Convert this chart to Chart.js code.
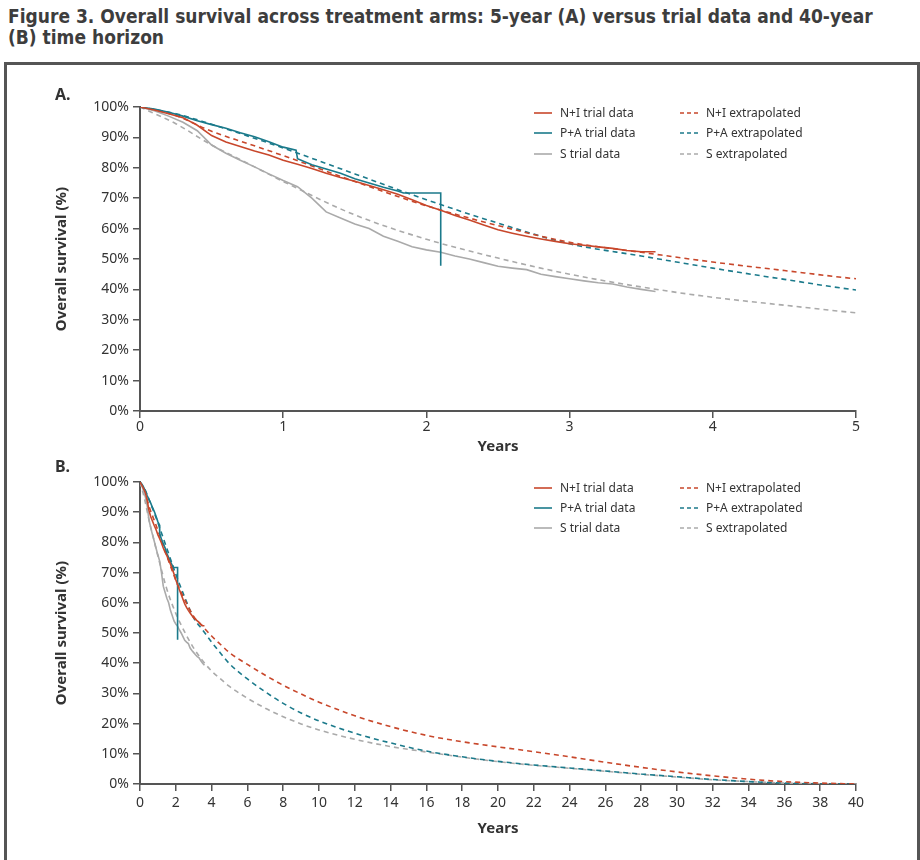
<!DOCTYPE html>
<html>
<head>
<meta charset="utf-8">
<script src="https://cdn.jsdelivr.net/npm/chart.js@4"></script>
<style>
  body { margin: 0; background: #fff; }
  #title { position: absolute; left: 8px; top: 6px; width: 910px; font-family: "DejaVu Sans Condensed", "Liberation Sans Narrow", sans-serif; font-weight: bold; font-size: 19px; line-height: 21px; color: #3d3d3d; }
  #frame { position: absolute; left: 4px; top: 62px; width: 910px; height: 820px; border: 3px solid #555; }
  .panel { position: absolute; left: 55px; font-family: "Noto Sans", sans-serif; font-weight: bold; font-size: 16px; color: #333; z-index: 2; }
  canvas { position: absolute; }
</style>
</head>
<body>
<div id="title">Figure 3. Overall survival across treatment arms: 5-year (A) versus trial data and 40-year<br>(B) time horizon</div>
<div id="frame"></div>
<div class="panel" style="top:83px">A.</div>
<div class="panel" style="top:455px">B.</div>
<canvas id="chartA" width="880" height="400" style="left:10px;top:70px"></canvas>
<canvas id="chartB" width="880" height="400" style="left:10px;top:445px"></canvas>
<script>
// Kaplan-Meier trial data (years, OS %)
const trialYears = [0,0.1,0.2,0.3,0.4,0.5,0.6,0.7,0.8,0.9,1.0,1.1,1.2,1.3,1.4,1.5,1.6,1.7,1.8,1.9,2.0,2.1,2.2,2.3,2.4,2.5,2.6,2.7,2.8,2.9,3.0,3.1,3.2,3.3,3.4,3.5,3.6];
const naiTrial = [100,99.0,97.8,96.5,94.0,90.6,88.5,87.0,85.5,84.2,82.5,81.2,79.8,78.2,76.8,75.6,74.2,72.8,71.3,69.5,67.6,66.0,64.3,62.8,61.2,59.6,58.5,57.5,56.6,55.8,55.0,54.5,54.0,53.5,52.8,52.4,52.4];
const sTrial = [100,98.8,97.0,95.0,92.2,87.5,84.8,82.5,80.3,78.0,75.8,73.8,70.0,65.5,63.5,61.5,60.0,57.5,55.8,54.0,53.0,52.2,51.0,50.0,48.8,47.6,47.0,46.5,45.0,44.2,43.5,42.8,42.2,41.8,40.8,40.0,39.3];
const paTrialYears = [0,0.1,0.2,0.3,0.4,0.5,0.6,0.7,0.8,0.9,1.0,1.09,1.1,1.2,1.3,1.4,1.5,1.6,1.7,1.8,1.84,2.1,2.1];
const paTrial = [100,99.3,98.3,97.0,95.5,94.2,93.0,91.5,90.2,88.6,86.8,85.8,83.0,81.0,79.6,78.2,76.4,75.0,73.6,72.4,71.7,71.7,47.8];

// Extrapolated curves (years, OS %)
const extrapYears = [0,0.25,0.5,0.75,1,1.5,2,2.5,3,3.5,4,4.5,5,6,7,8,9,10,12,14,16,18,20,22,24,26,28,30,32,34,36,38,40];
const naiExtrap = [100,97.2,92.0,88.0,84.0,75.5,67.5,61.0,55.5,52.2,49.0,46.2,43.5,39.6,36.0,32.7,29.8,27.1,22.6,19.0,16.1,14.0,12.3,10.7,9.0,7.2,5.5,4.0,2.7,1.6,0.8,0.3,0];
const paExtrap = [100,97.8,94.3,90.5,86.5,78.0,69.5,61.8,55.0,51.0,47.0,43.3,39.8,34.8,30.5,26.7,23.5,20.9,16.8,13.6,10.9,9.0,7.5,6.3,5.3,4.3,3.3,2.4,1.5,0.8,0.3,0.1,0];
const sExtrap = [100,94.5,87.5,81.5,75.5,64.5,56.5,50.3,45.0,40.8,37.4,34.8,32.3,28.4,25.1,22.3,19.9,17.9,14.8,12.4,10.6,8.9,7.4,6.2,5.2,4.2,3.2,2.3,1.4,0.8,0.3,0.1,0];

const armLabels = ['N+I', 'P+A', 'S'];
const armColors = ['#c8472b', '#1b7a8b', '#aaaaaa'];

const tickFont = { family: '"Noto Sans", sans-serif', size: 14 };
const axisTitleFont = { family: '"Noto Sans", sans-serif', size: 15, weight: 'bold' };

function pts(xs, ys) {
  return xs.map((x, i) => ({ x: x, y: ys[i] }));
}

function makeDatasets() {
  const trials = [pts(trialYears, naiTrial), pts(paTrialYears, paTrial), pts(trialYears, sTrial)];
  const extraps = [pts(extrapYears, naiExtrap), pts(extrapYears, paExtrap), pts(extrapYears, sExtrap)];
  const sets = [];
  trials.forEach((d, i) => sets.push({
    label: armLabels[i] + ' trial data', data: d, borderColor: armColors[i],
    borderWidth: 1.6, pointRadius: 0, fill: false, tension: 0
  }));
  extraps.forEach((d, i) => sets.push({
    label: armLabels[i] + ' extrapolated', data: d, borderColor: armColors[i],
    borderWidth: 1.6, borderDash: [5, 4], pointRadius: 0, fill: false,
    cubicInterpolationMode: 'monotone'
  }));
  return sets;
}

// legend drawn inside the plot, 2 columns x 3 rows
const legendInPlot = {
  id: 'legendInPlot',
  afterDatasetsDraw(chart, args, opts) {
    const { ctx, chartArea } = chart;
    ctx.save();
    ctx.font = '12px "Noto Sans", sans-serif';
    ctx.textBaseline = 'middle';
    chart.data.datasets.forEach((ds, i) => {
      const x = chartArea.left + opts.cols[i < 3 ? 0 : 1];
      const y = chartArea.top + opts.rows[i % 3];
      ctx.strokeStyle = ds.borderColor;
      ctx.lineWidth = 1.6;
      ctx.setLineDash(ds.borderDash ? [4, 3] : []);
      ctx.beginPath();
      ctx.moveTo(x, y);
      ctx.lineTo(x + 18, y);
      ctx.stroke();
      ctx.setLineDash([]);
      ctx.fillStyle = '#333';
      ctx.fillText(ds.label, x + 26, y + 1);
    });
    ctx.restore();
  }
};

function makeChart(id, xMax, xStep, xHeight, xTickPad, xTitlePad, rows) {
  return new Chart(document.getElementById(id), {
    type: 'line',
    data: { datasets: makeDatasets() },
    plugins: [legendInPlot],
    options: {
      responsive: false,
      animation: false,
      layout: { padding: { left: 0, right: 34, top: 37, bottom: 0 } },
      plugins: {
        legend: { display: false },
        tooltip: { enabled: false },
        legendInPlot: { cols: [394, 540], rows: rows }
      },
      scales: {
        x: {
          type: 'linear', min: 0, max: xMax,
          ticks: { stepSize: xStep, font: tickFont, color: '#333', padding: xTickPad, maxRotation: 0, autoSkip: false },
          grid: { drawOnChartArea: false, tickLength: 7, color: '#555', lineWidth: 1.5 },
          border: { color: '#555', width: 2 },
          title: { display: true, text: 'Years', font: axisTitleFont, color: '#333', padding: { bottom: xTitlePad } },
          afterFit: s => { s.height = xHeight; }
        },
        y: {
          min: 0, max: 100,
          ticks: { stepSize: 10, font: tickFont, color: '#333', padding: 4, callback: v => v + '%' },
          grid: { drawOnChartArea: false, tickLength: 7, color: '#555', lineWidth: 1.5 },
          border: { color: '#555', width: 2 },
          title: { display: true, text: 'Overall survival (%)', font: axisTitleFont, color: '#333', padding: { top: 43 } },
          afterFit: s => { s.width = 130; }
        }
      }
    }
  });
}

makeChart('chartA', 5, 1, 59, 1, 14, [6, 26, 47]);
makeChart('chartB', 40, 2, 61, 4, 7, [6, 26, 46]);
</script>
</body>
</html>
